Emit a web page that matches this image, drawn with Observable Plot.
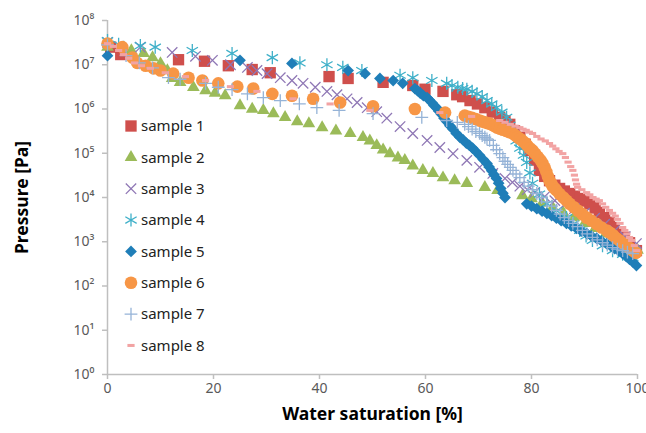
<!DOCTYPE html>
<html><head><meta charset="utf-8">
<script src="https://cdn.jsdelivr.net/npm/d3@7"></script>
<script src="https://cdn.jsdelivr.net/npm/@observablehq/plot@0.6"></script>
<style>body{margin:0;background:#fff;}</style>
</head><body><div id="chart"></div>
<script>
// [water saturation %, pressure Pa]
const sample1 = [[0.6,2.5e7],[2.5,1.7e7],[13.4,1.3e7],[18.3,1.2e7],[22.8,9.5e6],[27.3,7.8e6],[30.7,6.6e6],[41.8,5.4e6],[45.4,4.9e6],[52.0,4.0e6],[57.6,3.4e6],[59.9,2.8e6],[63.3,2.5e6],[65.9,2.1e6],[67,1.9e6],[68.4,1.55e6],[69.8,1.3e6],[71.2,1.07e6],[72.6,8.5e5],[74,6.5e5],[75,5.4e5],[75.9,4.5e5],[76.8,3.2e5],[77.8,2.3e5],[78.8,1.6e5],[79.7,1.15e5],[80.6,7e4],[81.5,4.1e4],[82.5,3.0e4],[83.4,2.4e4],[84.4,1.9e4],[85.3,1.6e4],[86.2,1.4e4],[87.2,1.23e4],[88.1,1.07e4],[89.1,9.5e3],[90,8.3e3],[91,7.2e3],[92,5.8e3],[92.8,4.6e3],[93.8,3.5e3],[94.7,2.75e3],[95.6,2.1e3],[96.6,1.6e3],[97.5,1.26e3],[98.5,9.5e2],[99.8,6.3e2]];
const sample2 = [[0,2.5e7],[4.5,2.1e7],[6.8,1.8e7],[8.5,1.45e7],[10.0,1.07e7],[11.3,7.4e6],[12.2,4.9e6],[13.7,4.0e6],[16.2,3.1e6],[18.5,2.6e6],[20.3,2.3e6],[22.2,2.0e6],[25.0,1.2e6],[27.3,1.0e6],[29.4,9.3e5],[31.3,7.9e5],[33.5,6.5e5],[35.8,5.2e5],[38.0,4.7e5],[40.5,3.8e5],[43.1,3.2e5],[45.8,2.8e5],[48.2,2.3e5],[49.5,1.9e5],[50.8,1.5e5],[52.0,1.2e5],[53.3,9.8e4],[54.8,7.9e4],[56.1,6.9e4],[57.6,5.2e4],[59.5,4.1e4],[61.4,3.5e4],[63.3,2.8e4],[65.5,2.4e4],[67.8,2.1e4],[71.2,1.7e4],[73.6,1.45e4],[78.3,1.1e4],[80,9.5e3],[82,7.5e3],[84,5.9e3],[86,4.5e3],[88,3.5e3],[90,2.6e3],[92,2.0e3],[94,1.5e3],[96,1.15e3],[98,8.5e2],[100,6.5e2]];
const sample3 = [[0,3.2e7],[6.2,2.5e7],[12.2,1.9e7],[16.6,1.55e7],[19.8,1.26e7],[23.2,1.0e7],[26.4,8.7e6],[28.2,7.4e6],[30.1,6.3e6],[32.6,5.1e6],[34.8,4.4e6],[36.9,3.8e6],[39.2,3.1e6],[41.4,2.5e6],[43.3,2.1e6],[45.2,1.7e6],[47.1,1.4e6],[49.0,1.07e6],[50.8,8.7e5],[52.7,6.2e5],[55.2,4.0e5],[57.6,2.8e5],[60.3,1.95e5],[62.7,1.35e5],[65.2,9.8e4],[67.8,6.9e4],[70.2,4.8e4],[72.7,3.5e4],[75.0,2.7e4],[76.4,2.2e4],[77.8,1.8e4],[79.2,1.5e4],[80.6,1.3e4],[82.5,1.05e4],[84.4,8.5e3],[86.2,6.9e3],[88.1,5.6e3],[90,4.4e3],[91.9,3.4e3],[93.8,2.5e3],[95.7,1.8e3],[97.7,1.3e3],[99.8,9.1e2]];
const sample4 = [[0,3.5e7],[2.1,2.9e7],[6.2,2.7e7],[9.0,2.5e7],[16.0,2.1e7],[23.5,1.8e7],[31.1,1.45e7],[36.3,1.1e7],[41.4,1.0e7],[44.4,8.7e6],[48.0,7.4e6],[55.2,5.8e6],[57.6,5.1e6],[61.2,4.4e6],[64.0,3.8e6],[65,3.4e6],[66.1,3.1e6],[67,2.9e6],[67.8,2.8e6],[68.8,2.5e6],[69.7,2.2e6],[70.7,1.9e6],[71.6,1.55e6],[72.5,1.3e6],[73.4,1.07e6],[74.4,8.5e5],[75.3,6.5e5],[75.9,4.3e5],[76.5,2.8e5],[77.1,1.9e5],[77.8,1.3e5],[78.5,9e4],[79.1,6.2e4],[79.7,3.6e4],[80.2,2.1e4],[81.5,1.2e4],[82.9,7.2e3],[84.7,5e3],[86.6,3.5e3],[87.8,2.5e3],[89.1,1.8e3],[90.3,1.35e3],[91.5,1.07e3],[93.4,8.1e2],[95.3,6.3e2],[97.2,5.2e2],[99.1,4.4e2]];
const sample5 = [[0,1.6e7],[25.0,1.26e7],[34.8,1.07e7],[45.4,7.4e6],[48.6,6.3e6],[51.4,4.9e6],[53.9,4.4e6],[55.7,3.8e6],[58.0,2.9e6],[58.5,2.6e6],[59.0,2.3e6],[59.6,2.0e6],[60.3,1.8e6],[60.7,1.6e6],[61.2,1.4e6],[61.6,1.2e6],[62.1,1.07e6],[62.5,9e5],[63.0,7.6e5],[63.5,6.2e5],[64.0,5.2e5],[64.6,4.2e5],[65.2,3.5e5],[65.8,2.8e5],[66.5,2.3e5],[67.1,2.0e5],[67.7,1.7e5],[68.3,1.5e5],[68.9,1.3e5],[69.5,1.1e5],[70.2,9e4],[70.9,7.2e4],[71.6,5.9e4],[72.0,4.9e4],[72.5,4.0e4],[72.9,3.3e4],[73.4,2.7e4],[73.8,2.1e4],[74.2,1.6e4],[74.6,1.25e4],[75.0,1.0e4],[79.1,7.2e3],[80,6.4e3],[81,5.6e3],[82,4.9e3],[82.9,4.4e3],[83.8,3.9e3],[84.7,3.4e3],[85.6,3.0e3],[86.6,2.6e3],[87.5,2.3e3],[88.5,2.0e3],[89.4,1.75e3],[90.4,1.55e3],[91.3,1.35e3],[92.3,1.2e3],[93.2,1.05e3],[94.2,9.1e2],[95,8e2],[95.7,7e2],[96.5,6.2e2],[97.2,5.4e2],[97.9,4.6e2],[98.5,4.0e2],[99.2,3.4e2],[99.8,2.9e2]];
const sample6 = [[0,3.0e7],[2.8,2.5e7],[4.7,1.45e7],[5.6,1.1e7],[7.2,9.5e6],[8.7,8.3e6],[10.0,7.4e6],[12.4,6.3e6],[15.3,5.1e6],[17.9,4.4e6],[20.9,3.8e6],[24.5,3.2e6],[27.5,2.9e6],[31.1,2.2e6],[34.8,2.0e6],[38.8,1.7e6],[43.9,1.4e6],[50.1,1.15e6],[58.0,1.0e6],[63.7,8.3e5],[67.4,7.1e5],[68.1,6.7e5],[68.8,6.3e5],[69.5,5.9e5],[70.2,5.5e5],[70.7,5.2e5],[71.2,5.0e5],[71.7,4.8e5],[72.1,4.7e5],[72.6,4.4e5],[73.0,4.1e5],[73.5,3.8e5],[74.0,3.6e5],[74.6,3.4e5],[75.2,3.2e5],[75.8,3.0e5],[76.5,2.8e5],[77.0,2.5e5],[77.4,2.3e5],[77.9,2.1e5],[78.3,1.9e5],[78.8,1.7e5],[79.2,1.5e5],[79.7,1.3e5],[80.2,1.15e5],[80.7,9.8e4],[81.2,8.3e4],[81.7,7e4],[82.1,5.9e4],[82.5,4.7e4],[82.8,3.8e4],[83.1,3.0e4],[83.4,2.4e4],[83.7,2.1e4],[84.0,1.8e4],[84.4,1.6e4],[84.7,1.45e4],[85.3,1.2e4],[86.0,1.0e4],[86.6,8.5e3],[87.2,7.2e3],[88.0,6e3],[88.8,5.0e3],[89.6,4.2e3],[90.4,3.5e3],[91.3,3.0e3],[92.3,2.5e3],[93.2,2.1e3],[94.2,1.8e3],[94.8,1.6e3],[95.4,1.4e3],[96.0,1.2e3],[96.6,1.07e3],[97.2,9.4e2],[97.9,8.3e2],[98.5,7.2e2],[99.1,6.3e2],[99.7,5.6e2]];
const sample7 = [[0,2.8e7],[3.5,1.6e7],[6,1.1e7],[8.5,8.5e6],[11.5,5.1e6],[13.7,4.7e6],[18.5,3.8e6],[20.9,3.1e6],[23.5,2.75e6],[26.4,2.2e6],[29.4,1.8e6],[32.6,1.55e6],[36.2,1.3e6],[39.5,1.07e6],[43.7,9.3e5],[50.1,7.9e5],[59.3,6.5e5],[64.0,5.5e5],[66.0,5.0e5],[67.4,4.5e5],[68.1,4.0e5],[68.8,3.5e5],[69.5,3.1e5],[70.2,2.8e5],[70.7,2.5e5],[71.2,2.3e5],[71.6,2.1e5],[72.1,1.95e5],[72.8,1.5e5],[73.4,1.2e5],[74.0,9.8e4],[74.6,8e4],[75.0,6.6e4],[75.5,5.6e4],[76.0,4.8e4],[76.5,4.1e4],[77.1,3.4e4],[77.8,2.8e4],[78.6,2.2e4],[79.4,1.8e4],[80.2,1.5e4],[81.0,1.23e4],[81.9,1.0e4],[82.9,8e3],[83.8,6.4e3],[84.7,5.1e3],[85.4,4.2e3],[86.2,3.5e3],[87.0,3.0e3],[87.8,2.6e3],[88.7,2.2e3],[89.6,1.8e3],[90.5,1.5e3],[91.5,1.26e3],[92.4,1.1e3],[93.4,9.5e2],[94.3,8.4e2],[95.3,7.4e2],[96.2,6.8e2],[97.2,6.3e2],[98.1,5.8e2],[99.1,5.4e2]];
const sample8 = [[0,3.0e7],[1.1,2.6e7],[2.1,2.1e7],[3.0,1.7e7],[4.0,1.4e7],[5.1,1.1e7],[6.4,9.5e6],[8.1,8.3e6],[10.9,6.6e6],[14.7,5.4e6],[18.5,4.4e6],[23.2,3.2e6],[28.2,2.5e6],[35.0,1.7e6],[42.0,1.3e6],[49.5,9.3e5],[62.7,8.3e5],[68.7,6.8e5],[74.0,5.5e5],[75.0,5.0e5],[76.0,4.5e5],[76.9,4.1e5],[77.8,3.8e5],[78.4,3.5e5],[79.0,3.3e5],[79.6,3.0e5],[80.2,2.8e5],[81.0,2.4e5],[81.8,2.1e5],[82.6,1.9e5],[83.4,1.66e5],[84.0,1.45e5],[84.6,1.26e5],[85.2,1.1e5],[85.9,9.8e4],[86.4,8e4],[86.9,6.3e4],[87.4,5e4],[87.8,4.1e4],[88.1,3.2e4],[88.3,2.5e4],[88.5,2.0e4],[88.7,1.7e4],[89.5,1.5e4],[90.4,1.29e4],[91.0,1.15e4],[91.6,1.0e4],[92.2,9.2e3],[92.8,8.5e3],[93.4,7.2e3],[94.0,6e3],[94.7,5.1e3],[95.3,4.4e3],[95.8,3.8e3],[96.2,3.2e3],[96.7,2.6e3],[97.2,2.1e3],[97.6,1.8e3],[98.0,1.5e3],[98.5,1.25e3],[98.9,1.07e3],[99.4,8.2e2],[99.8,6.3e2]];

const seriesNames = ["sample 1","sample 2","sample 3","sample 4","sample 5","sample 6","sample 7","sample 8"];
const seriesData = [sample1,sample2,sample3,sample4,sample5,sample6,sample7,sample8];
const xTicks = [0,20,40,60,80,100];
const yTicks = [1e0,1e1,1e2,1e3,1e4,1e5,1e6,1e7,1e8];

// styles
const dash = {draw(ctx, size){ const r = Math.sqrt(size/Math.PI); ctx.rect(-r, -r*0.42, 2*r, r*0.84); }};
const styles = [
  {symbol:"square",   color:"#CF4F4C", filled:true,  r:6.4},
  {symbol:"triangle", color:"#9BBB59", filled:true,  r:4.7},
  {symbol:"times",    color:"#8F77B5", filled:false, r:4.8},
  {symbol:"asterisk", color:"#3FB0C9", filled:false, r:6.2},
  {symbol:"diamond2", color:"#1F7EB8", filled:true,  r:5.3},
  {symbol:"circle",   color:"#F79646", filled:true,  r:6.3},
  {symbol:"plus",     color:"#95B3D7", filled:false, r:4.2},
  {symbol:dash,       color:"#F2A3A3", filled:true,  r:3.6}
];
const sup = "⁰¹²³⁴⁵⁶⁷⁸";
const font = "'Noto Sans', sans-serif";

const marks = [];
seriesData.forEach((data, i) => {
  const s = styles[i];
  marks.push(Plot.dot(data, {
    x: d => d[0], y: d => d[1], symbol: s.symbol, r: s.r,
    fill: s.filled ? s.color : "none",
    stroke: s.filled ? "none" : s.color,
    strokeWidth: 1.3
  }));
});

const plot = Plot.plot({
  width: 646, height: 433,
  marginLeft: 107, marginRight: 9, marginTop: 20, marginBottom: 59,
  style: {fontFamily: font, background: "#fff", overflow: "visible"},
  x: {domain: [0, 100], label: null},
  y: {type: "log", domain: [1, 1e8], label: null},
  marks: [
    Plot.axisY({ticks: yTicks, tickSize: 5, tickPadding: 8, stroke: "#bfbfbf", strokeWidth: 1.5, color: "#595959", fontSize: 14, label: null,
      tickFormat: d => "10" + sup[Math.round(Math.log10(d))]}),
    Plot.axisX({ticks: xTicks, tickSize: 5, tickPadding: 4, stroke: "#bfbfbf", strokeWidth: 1.5, color: "#595959", fontSize: 14, label: null}),
    Plot.ruleX([0], {stroke: "#bfbfbf", strokeWidth: 1.5}),
    Plot.ruleY([1], {stroke: "#bfbfbf", strokeWidth: 1.5}),
    ...marks,
    Plot.text(["Pressure [Pa]"], {text: d => d, frameAnchor: "left", dx: -85, rotate: -90, textAnchor: "middle", lineAnchor: "middle", fontSize: 17.5, fontWeight: "bold", fill: "#000"}),
    Plot.text(["Water saturation [%]"], {text: d => d, frameAnchor: "bottom", dy: 40, textAnchor: "middle", lineAnchor: "middle", fontSize: 17.5, fontWeight: "bold", fill: "#000"})
  ]
});

// legend
const symMap = {square: d3.symbolSquare, triangle: d3.symbolTriangle, times: d3.symbolTimes, asterisk: d3.symbolAsterisk, diamond2: d3.symbolDiamond2, circle: d3.symbolCircle, plus: d3.symbolPlus};
const svg = d3.select(plot);
const lg = svg.append("g").attr("font-family", font).attr("font-size", 15).attr("text-anchor", "start");
seriesNames.forEach((name, i) => {
  const s = styles[i];
  const g = lg.append("g").attr("transform", `translate(131,${126 + 31.35 * i})`);
  const sym = typeof s.symbol === "string" ? symMap[s.symbol] : s.symbol;
  g.append("path").attr("d", d3.symbol(sym, s.r * s.r * Math.PI)())
    .attr("fill", s.filled ? s.color : "none")
    .attr("stroke", s.filled ? "none" : s.color)
    .attr("stroke-width", 1.3);
  g.append("text").attr("x", 10).attr("dy", "0.35em").attr("text-anchor", "start").attr("fill", "#222").text(name);
});

document.getElementById("chart").appendChild(plot);
</script>
</body></html>
